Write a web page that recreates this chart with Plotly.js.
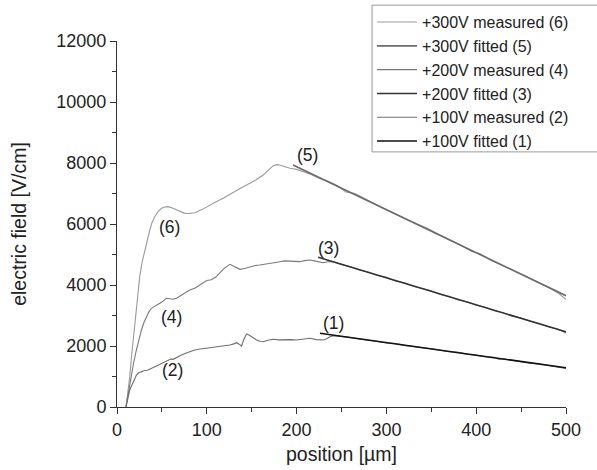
<!DOCTYPE html>
<html>
<head>
<meta charset="utf-8">
<script src="https://cdn.plot.ly/plotly-3.0.1.min.js"></script>
<style>html,body{margin:0;padding:0;background:#fff;}#chart{width:597px;height:470px;}</style>
</head>
<body>
<div id="chart"></div>
<script>
// ---- data ----
const m6x = [10,12,14.2,16,17.9,19.7,21.6,23.5,25.3,28,30.9,33.5,36.5,39,42,45.5,49.5,53,56.9,61,66.2,71,75.5,80,86.6,95,103.4,110,118.2,125,133.1,140,148,155,162.8,168,174,178,181.4,187,192.6,200,207.4,215,225,235,245,255,265,275,285,295,305,315,325,335,345,355,365,375,385,395,405,415,425,435,445,455,465,475,485,492,500];
const m6y = [0,450,995,1600,2197,2750,3290,3800,4273,4750,5148,5500,5803,6050,6240,6400,6514,6560,6568,6530,6459,6390,6350,6345,6371,6480,6623,6720,6843,6960,7115,7210,7334,7450,7607,7740,7911,7945,7934,7880,7826,7790,7715,7640,7500,7400,7260,7050,7000,6840,6680,6540,6400,6250,6120,5990,5870,5710,5560,5430,5270,5100,5020,4830,4700,4560,4430,4290,4140,4000,3850,3720,3530];

const f5x = [196, 500];
const f5y = [7934, 3650];

const m4x = [10,12,14,16,18.5,21.6,24.5,27.2,30,32.8,35.5,38.3,42,45.7,50,55,58.5,62.5,66.2,71.8,77.4,81,86.6,92.2,100,105,110,114.5,120,125.7,130,136.9,142,148,154,159.1,165,170.3,176,181.4,187,192.6,198,203.7,209,214.9,220,225,229.7,235,240,250,260,270,280,290,300,310,320,330,340,350,360,370,380,390,400,410,420,430,440,450,460,470,480,490,500];
const m4y = [0,350,700,995,1450,1869,2220,2525,2770,2961,3120,3236,3300,3344,3440,3564,3560,3531,3564,3672,3780,3836,3891,4000,4150,4170,4260,4400,4560,4678,4620,4514,4540,4601,4640,4656,4690,4711,4740,4765,4790,4787,4770,4765,4800,4820,4790,4760,4731,4760,4770,4670,4600,4490,4420,4310,4250,4130,4070,3960,3880,3810,3690,3620,3510,3450,3340,3270,3160,3090,2980,2920,2810,2740,2630,2560,2430];

const f3x = [224, 500];
const f3y = [4908, 2465];

const m2x = [10,12,14.2,16,17.8,19.7,21.6,24,27.2,30,34.6,38,42,46,49.5,53,56.9,60,62.5,66,71.8,78,86.6,93,99.7,107,114.5,120,125.7,130,133.1,136,138.7,141,144.3,147,149.9,155.5,160,162.8,168,174,180,188.9,194,200,207,214.9,222,229.7,233,237.2,241,250,260,270,280,290,300,310,320,330,340,350,360,370,380,390,400,410,420,425,430,440,450,460,470,480,490,495,500];
const m2y = [0,280,557,680,776,920,1049,1120,1158,1190,1213,1260,1322,1380,1432,1490,1541,1570,1563,1620,1705,1780,1869,1900,1925,1950,1977,2000,2033,2070,2108,2060,2000,2200,2393,2360,2305,2197,2150,2141,2190,2220,2200,2220,2210,2197,2230,2252,2210,2197,2230,2305,2340,2320,2280,2230,2200,2150,2100,2080,2020,1990,1940,1910,1860,1810,1790,1730,1700,1650,1630,1570,1580,1530,1500,1440,1410,1360,1330,1280,1260];

const f1x = [226, 500];
const f1y = [2416, 1285];

const names = ["+300V measured (6)","+300V fitted (5)","+200V measured (4)","+200V fitted (3)","+100V measured (2)","+100V fitted (1)"];

const labelText = ["(6)","(5)","(4)","(3)","(2)","(1)"];
const labelX = [58.8, 212.6, 60.7, 235.3, 61.4, 240.9];
const labelY = [5911, 8262, 2961, 5203, 1213, 2744];

const xTickVals = [0,100,200,300,400,500];
const xTickText = ["0","100","200","300","400","500"];
const yTickVals = [0,2000,4000,6000,8000,10000,12000];
const yTickText = ["0","2000","4000","6000","8000","10000","12000"];
// --------------------------------------

const FONT = "Liberation Sans, Arial, sans-serif";
const traces = [
  {x:m6x, y:m6y, name:names[0], mode:"lines", line:{color:"#9a9a9a", width:1.1}},
  {x:f5x, y:f5y, name:names[1], mode:"lines", line:{color:"#6a6a6a", width:1.6}},
  {x:m4x, y:m4y, name:names[2], mode:"lines", line:{color:"#7a7a7a", width:1.1}},
  {x:f3x, y:f3y, name:names[3], mode:"lines", line:{color:"#333333", width:1.6}},
  {x:m2x, y:m2y, name:names[4], mode:"lines", line:{color:"#6e6e6e", width:1.1}},
  {x:f1x, y:f1y, name:names[5], mode:"lines", line:{color:"#111111", width:1.6}}
];

const annotations = labelText.map((t,i)=>({
  x:labelX[i], y:labelY[i], xref:"x", yref:"y", text:t, showarrow:false,
  font:{family:FONT, size:17.5, color:"#222"}
}));

const layout = {
  width:597, height:470,
  margin:{l:117, r:31, t:41, b:63, pad:0, autoexpand:false},
  paper_bgcolor:"#fff", plot_bgcolor:"#fff",
  font:{family:FONT, size:16, color:"#222"},
  showlegend:true,
  legend:{x:0.568, xanchor:"left", y:1.098, yanchor:"top", bgcolor:"rgba(0,0,0,0)",
          borderwidth:0, font:{family:FONT, size:16, color:"#222"}, itemwidth:40, tracegroupgap:0},
  xaxis:{range:[0,500], tickvals:xTickVals, ticktext:xTickText, ticks:"outside", ticklen:6, tickwidth:1, tickcolor:"#333",
         showline:true, linecolor:"#333", linewidth:1, showgrid:false, zeroline:false,
         tickfont:{family:FONT, size:18, color:"#222"},
         minor:{dtick:50, ticks:"outside", ticklen:4, tickcolor:"#333", showgrid:false},
         title:{text:"position [µm]", font:{family:FONT, size:19.5, color:"#222"}, standoff:8}},
  yaxis:{range:[0,12000], tickvals:yTickVals, ticktext:yTickText, ticks:"outside", ticklen:6, tickwidth:1, tickcolor:"#333",
         showline:true, linecolor:"#333", linewidth:1, showgrid:false, zeroline:false,
         tickfont:{family:FONT, size:18, color:"#222"},
         minor:{dtick:1000, ticks:"outside", ticklen:4, tickcolor:"#333", showgrid:false},
         title:{text:"electric field [V/cm]", font:{family:FONT, size:19.5, color:"#222"}, standoff:24}},
  annotations:annotations,
  shapes:[{type:"rect", xref:"paper", yref:"paper", x0:0.568, x1:1.1, y0:0.697, y1:1.098,
           line:{color:"#999", width:1}, fillcolor:"rgba(0,0,0,0)", layer:"above"}]
};

Plotly.newPlot("chart", traces, layout, {displayModeBar:false, staticPlot:true});
</script>
</body>
</html>
